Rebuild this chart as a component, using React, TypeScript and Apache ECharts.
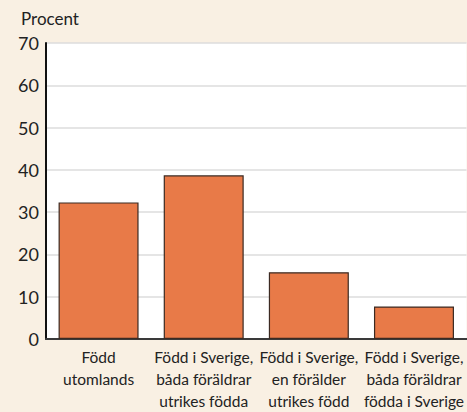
import React, { useEffect, useRef } from "react";
import * as echarts from "echarts";

const categories = [
  "Född\nutomlands",
  "Född i Sverige,\nbåda föräldrar\nutrikes födda",
  "Född i Sverige,\nen förälder\nutrikes född",
  "Född i Sverige,\nbåda föräldrar\nfödda i Sverige",
];
const values = [32.3, 38.7, 15.8, 7.7];
const yTicks = { min: 0, max: 70, interval: 10 };
const yName = "Procent";

const FONT = "Lato, 'Open Sans', sans-serif";

export default function App() {
  const ref = useRef<HTMLDivElement>(null);
  useEffect(() => {
    if (!ref.current) return;
    const chart = echarts.init(ref.current, undefined, { renderer: "svg" });
    chart.setOption({
      animation: false,
      backgroundColor: "#f9f0e3",
      textStyle: { fontFamily: FONT },
      grid: {
        left: 46,
        right: 0,
        top: 43,
        bottom: 69,
        show: true,
        backgroundColor: "#ffffff",
        borderWidth: 0,
      },
      graphic: [
        {
          type: "text",
          left: 21,
          top: 10,
          style: { text: yName, fontSize: 17, fill: "#222", fontFamily: FONT },
        },
      ],
      xAxis: {
        type: "category",
        data: categories,
        axisLine: { lineStyle: { color: "#3a3a3a", width: 2 } },
        axisTick: { show: false },
        axisLabel: {
          color: "#222",
          fontSize: 15.5,
          lineHeight: 22,
          margin: 7,
          interval: 0,
          overflow: "none",
          fontFamily: FONT,
        },
      },
      yAxis: {
        type: "value",
        min: yTicks.min,
        max: yTicks.max,
        interval: yTicks.interval,
        axisLine: { show: true, lineStyle: { color: "#111", width: 2 } },
        axisTick: { show: false },
        axisLabel: { color: "#222", fontSize: 18, margin: 7, fontFamily: FONT },
        splitLine: { lineStyle: { color: "#dcdcdc", width: 1.5 } },
      },
      series: [
        {
          type: "bar",
          data: values,
          barWidth: 80,
          itemStyle: { color: "#e87a48", borderColor: "#3b2a22", borderWidth: 1.2 },
        },
      ],
    });
    return () => chart.dispose();
  }, []);
  return (
    <div
      ref={ref}
      style={{ position: "fixed", left: 0, top: 0, width: 467, height: 412 }}
    />
  );
}
